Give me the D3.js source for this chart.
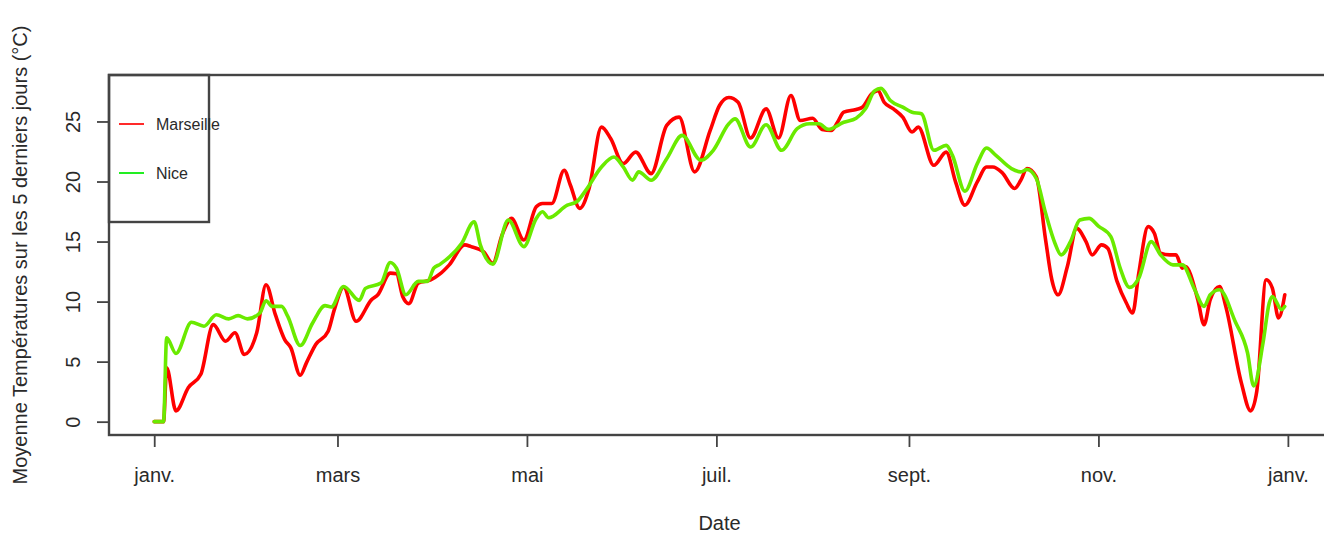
<!DOCTYPE html>
<html>
<head>
<meta charset="utf-8">
<script src="https://cdn.jsdelivr.net/npm/d3@7"></script>
<style>
  body { margin: 0; background: #fff; }
  svg { display: block; }
  text { font-family: "Liberation Sans", Arial, Helvetica, sans-serif; fill: #2a2a2a; }
</style>
</head>
<body>
<svg id="chart" width="1324" height="533"></svg>
<script>
// ---------------- DATA ----------------
const yearStart = "2019-01-01";
const seriesNames = ["Marseille", "Nice"];

// day index (0 = 1 Jan) and 5-day mean temperature (°C)
const marseilleDays = [0,3,4,7,11,15,19,23,26,29,33,36,39,42,44,47,49,52,56,58,61,65,70,72,76,78,80,82,85,89,92,95,100,102,106,109,112,115,119,123,125,128,132,134,137,140,144,147,151,155,160,165,169,174,179,182,185,188,192,197,201,205,208,212,215,218,220,222,226,228,231,233,235,238,241,244,246,251,255,258,261,265,268,270,273,277,279,281,284,287,289,291,294,297,300,302,305,307,310,313,315,317,320,322,324,327,329,331,332,336,338,340,343,345,350,353,355,358,360,362,364];
const marseilleTemps = [0,0,4.49,0.9,2.84,3.94,8.08,6.7,7.4,5.6,7.4,11.4,8.91,6.84,6.15,3.86,4.9,6.43,7.53,9.33,11.2,8.36,10.16,10.57,12.37,12.31,10.43,9.83,11.54,11.8,12.3,13.06,14.72,14.58,14.16,13.2,15.55,16.93,15.13,17.9,18.17,18.17,20.94,19.69,17.76,19.42,24.53,23.56,21.49,22.45,20.66,24.67,25.36,20.8,24.25,26.33,27.0,26.6,23.62,26.05,23.62,27.16,25.08,25.27,24.34,24.25,24.94,25.77,26.0,26.19,27.3,27.57,26.6,26.05,25.36,24.12,24.53,21.35,22.45,19.97,18.03,19.97,21.21,21.21,20.74,19.42,20.1,21.08,20.38,15.13,11.82,10.57,12.92,16.1,14.99,13.89,14.72,14.44,11.68,9.88,9.05,12.37,16.24,15.69,14.03,13.89,13.89,12.79,12.92,10.16,8.08,10.16,11.26,9.6,3.25,0.9,2.56,11.82,11.13,8.64,10.57];

const niceDays = [0,3,4,7,12,16,20,24,27,30,34,36,38,41,43,47,51,55,57,61,66,68,73,76,78,81,85,88,90,92,99,103,105,109,114,119,123,125,127,133,136,139,144,148,151,154,156,160,165,170,176,180,185,187,192,197,202,207,211,214,217,222,226,229,232,234,237,241,244,247,251,255,257,261,265,268,271,276,279,281,284,287,290,292,295,298,301,304,308,311,314,317,321,324,328,331,335,338,340,343,348,352,354,357,359,360,363,364];
const niceTemps = [0,0,6.98,5.68,8.28,7.95,8.91,8.56,8.83,8.56,9.05,10.07,9.6,9.6,8.77,6.34,8.22,9.66,9.55,11.26,10.1,11.1,11.54,13.25,12.78,10.57,11.68,11.68,12.78,13.1,14.86,16.65,14.72,13.12,16.79,14.58,16.93,17.48,16.98,18.03,18.31,19.28,21.21,22.04,21.21,20.11,20.8,20.11,21.9,23.84,21.77,22.6,24.81,25.22,22.87,24.73,22.6,24.4,24.81,24.81,24.34,24.94,25.27,26.05,27.57,27.76,26.74,26.19,25.77,25.64,22.6,23.01,22.18,19.2,21.49,22.79,22.18,21.08,20.8,21.0,20.25,17.35,14.86,13.89,14.99,16.79,16.93,16.29,15.41,12.79,11.18,11.96,14.99,13.89,13.06,13.06,10.99,9.6,10.57,10.99,8.36,5.74,2.97,6.57,9.88,10.43,9.33,9.6];

const xTickDates = ["2019-01-01","2019-03-01","2019-05-01","2019-07-01","2019-09-01","2019-11-01","2020-01-01"];
const xTickLabels = ["janv.","mars","mai","juil.","sept.","nov.","janv."];
const yTicks = [0, 5, 10, 15, 20, 25];

const xTitle = "Date";
const yTitle = "Moyenne Températures sur les 5 derniers jours (°C)";

// ---------------- STYLE / LAYOUT ----------------
const colors = { Marseille: "#ff0000", Nice: "#6aea00" };
const legendColors = { Marseille: "#ff2a2a", Nice: "#22ee22" };
const plot = { left: 109, right: 1330, top: 75, bottom: 435 };

// ---------------- BUILD ----------------
const parse = d3.utcParse("%Y-%m-%d");
const start = parse(yearStart);
const toDate = d => d3.utcDay.offset(start, d);

const series = [
  { name: "Marseille", pts: marseilleDays.map((d, i) => ({ date: toDate(d), v: marseilleTemps[i] })) },
  { name: "Nice", pts: niceDays.map((d, i) => ({ date: toDate(d), v: niceTemps[i] })) }
];

const allPts = series.flatMap(s => s.pts);
const t0 = d3.min(allPts, p => p.date), t1 = d3.max(allPts, p => p.date);
const pad = (t1 - t0) * 0.04;
const x = d3.scaleUtc()
  .domain([new Date(+t0 - pad), new Date(+t1 + pad)])
  .range([plot.left, plot.right]);

const vMin = d3.min(allPts, p => p.v), vMax = d3.max(allPts, p => p.v);
const vPad = (vMax - vMin) * 0.04;
const y = d3.scaleLinear()
  .domain([vMin - vPad, vMax + vPad])
  .range([plot.bottom, plot.top]);

const svg = d3.select("#chart");

// data lines
const line = d3.line()
  .x(p => x(p.date))
  .y(p => y(p.v))
  .curve(d3.curveMonotoneX);

svg.append("g").selectAll("path")
  .data(series)
  .join("path")
  .attr("d", s => line(s.pts))
  .attr("fill", "none")
  .attr("stroke", s => colors[s.name])
  .attr("stroke-width", 3.6)
  .attr("stroke-linejoin", "round")
  .attr("stroke-linecap", "round");

// x axis
const gx = svg.append("g")
  .attr("transform", `translate(0,${plot.bottom})`)
  .call(d3.axisBottom(x)
    .tickValues(xTickDates.map(parse))
    .tickFormat((d, i) => xTickLabels[i])
    .tickSize(12));
gx.select(".domain").remove();
gx.selectAll(".tick line").attr("stroke", "#444").attr("stroke-width", 1.8);
gx.selectAll(".tick text")
  .attr("y", 47).attr("dy", 0)
  .style("font-size", "20px")
  .style("font-family", "'Liberation Sans', Arial, sans-serif")
  .attr("fill", "#2a2a2a");

// y axis
const gy = svg.append("g")
  .attr("transform", `translate(${plot.left},0)`)
  .call(d3.axisLeft(y).tickValues(yTicks).tickSize(12));
gy.select(".domain").remove();
gy.selectAll(".tick line").attr("stroke", "#444").attr("stroke-width", 1.8);
gy.selectAll(".tick text")
  .attr("transform", "rotate(-90)")
  .attr("x", 0).attr("y", -29).attr("dy", 0)
  .attr("text-anchor", "middle")
  .style("font-size", "20px")
  .style("font-family", "'Liberation Sans', Arial, sans-serif")
  .attr("fill", "#2a2a2a");

// plot box
svg.append("rect")
  .attr("x", plot.left).attr("y", plot.top)
  .attr("width", plot.right - plot.left)
  .attr("height", plot.bottom - plot.top)
  .attr("fill", "none")
  .attr("stroke", "#444")
  .attr("stroke-width", 2.4);

// axis titles
svg.append("text")
  .attr("x", (plot.left + plot.right) / 2)
  .attr("y", 530)
  .attr("text-anchor", "middle")
  .style("font-size", "20px")
  .text(xTitle);

svg.append("text")
  .attr("transform", `translate(27,${(plot.top + plot.bottom) / 2}) rotate(-90)`)
  .attr("text-anchor", "middle")
  .style("font-size", "20px")
  .text(yTitle);

// legend
const legend = svg.append("g");
legend.append("rect")
  .attr("x", plot.left).attr("y", plot.top)
  .attr("width", 100).attr("height", 147)
  .attr("fill", "none")
  .attr("stroke", "#444")
  .attr("stroke-width", 2.4);
seriesNames.forEach((name, i) => {
  const ly = plot.top + 49 + i * 49;
  legend.append("line")
    .attr("x1", plot.left + 10).attr("x2", plot.left + 35)
    .attr("y1", ly).attr("y2", ly)
    .attr("stroke", legendColors[name])
    .attr("stroke-width", 2);
  legend.append("text")
    .attr("x", plot.left + 47).attr("y", ly)
    .attr("dy", "0.35em")
    .style("font-size", "16px")
    .text(name);
});
</script>
</body>
</html>
